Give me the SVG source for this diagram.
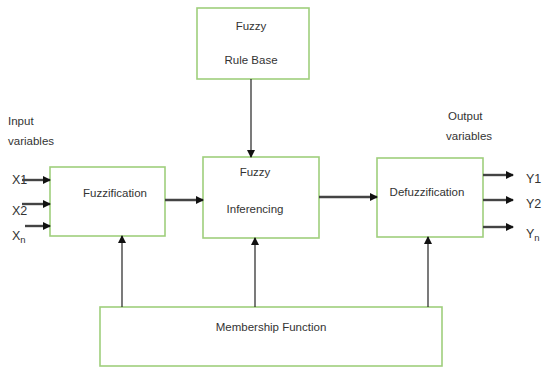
<svg xmlns="http://www.w3.org/2000/svg" width="544" height="369" viewBox="0 0 544 369">
<defs>
<marker id="ah" markerWidth="8" markerHeight="8" refX="7" refY="4" orient="auto" markerUnits="userSpaceOnUse">
<path d="M0,0 L8,4 L0,8 z" fill="#111"/>
</marker>
<style>
.box{fill:#fff;stroke:#9fcf7c;stroke-width:1.6}
.t{font-family:"Liberation Sans",Arial,sans-serif;font-size:11.5px;fill:#333}
.v{font-size:12.5px}
.c{text-anchor:middle}
.ln{stroke:#222;stroke-width:1.2;fill:none;marker-end:url(#ah)}
.dl{stroke:#444;stroke-width:2.4;fill:none;marker-end:url(#ah)}
</style>
</defs>
<rect width="544" height="369" fill="#fff"/>
<g id="rulebase"><rect class="box" x="197" y="8" width="112" height="71"/><text class="t c" x="251" y="30">Fuzzy</text><text class="t c" x="251" y="64">Rule Base</text></g>
<g id="fuzzification"><rect class="box" x="50" y="167" width="115" height="69"/><text class="t c" x="115" y="197">Fuzzification</text></g>
<g id="inferencing"><rect class="box" x="203" y="157" width="116" height="81"/><text class="t c" x="255" y="176">Fuzzy</text><text class="t c" x="255" y="213">Inferencing</text></g>
<g id="defuzzification"><rect class="box" x="377" y="158" width="106" height="79"/><text class="t c" x="427" y="196">Defuzzification</text></g>
<g id="membership"><rect class="box" x="100" y="307" width="342" height="59"/><text class="t c" x="271" y="331">Membership Function</text></g>
<g id="labels">
<text class="t" x="8" y="125">Input</text><text class="t" x="8" y="145">variables</text>
<text class="t v" x="12" y="184">X1</text><text class="t v" x="12" y="215">X2</text>
<text class="t v" x="12" y="240">X<tspan font-size="9.5" dy="3">n</tspan></text>
<text class="t" x="448" y="120">Output</text><text class="t" x="446" y="140">variables</text>
<text class="t v" x="526" y="183">Y1</text><text class="t v" x="526" y="208">Y2</text>
<text class="t v" x="526" y="238">Y<tspan font-size="9.5" dy="3">n</tspan></text>
</g>
<g id="connectors">
<line class="ln" x1="251" y1="79" x2="251" y2="157"/>
<line class="dl" x1="165" y1="200" x2="203" y2="200"/>
<line class="dl" x1="319" y1="197" x2="377" y2="197"/>
<line class="dl" x1="22" y1="180" x2="50" y2="180"/>
<line class="dl" x1="22" y1="204" x2="50" y2="204"/>
<line class="dl" x1="25" y1="226" x2="50" y2="226"/>
<line class="dl" x1="483" y1="175" x2="513" y2="175"/>
<line class="dl" x1="483" y1="200" x2="513" y2="200"/>
<line class="dl" x1="483" y1="227" x2="513" y2="227"/>
<line class="ln" x1="122" y1="307" x2="122" y2="236"/>
<line class="ln" x1="255" y1="307" x2="255" y2="238"/>
<line class="ln" x1="428" y1="307" x2="428" y2="237"/>
</g>
</svg>
